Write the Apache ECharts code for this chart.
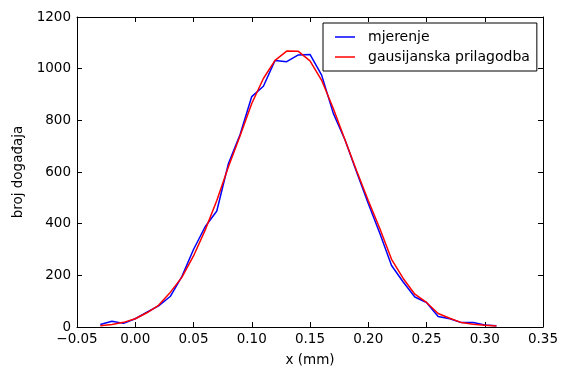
<!DOCTYPE html>
<html>
<head>
<meta charset="utf-8">
<script src="https://cdn.jsdelivr.net/npm/echarts@6/dist/echarts.min.js"></script>
<style>html,body{margin:0;padding:0;background:#fff}#c{width:561px;height:369px}</style>
</head>
<body>
<div id="c"></div>
<script>
const xValues = [-0.03,-0.02,-0.01,0.00,0.01,0.02,0.03,0.04,0.05,0.06,0.07,0.08,0.09,0.10,0.11,0.12,0.13,0.14,0.15,0.16,0.17,0.18,0.19,0.20,0.21,0.22,0.23,0.24,0.25,0.26,0.27,0.28,0.29,0.30,0.31];
const mjerenje = [10,22,14,32,57,82,118,195,300,388,449,633,745,892,932,1032,1027,1053,1055,975,827,725,600,478,362,238,174,116,95,41,32,17,17,8,5];
const gaus = [5,10,18,32,55,84,134,192,275,375,490,620,740,865,962,1032,1068,1067,1030,955,846,725,605,490,380,262,188,127,95,52,34,17,11,7,4];
const xTicks = [-0.05,0.00,0.05,0.10,0.15,0.20,0.25,0.30,0.35];
const yTicks = [0,200,400,600,800,1000,1200];
const seriesNames = ['mjerenje','gausijanska prilagodba'];

const font = 'DejaVu Sans';
const fs = 13.5;
const fmtX = v => (v < 0 ? '\u2212' : '') + Math.abs(v).toFixed(2);
const tickStyle = {show:true, inside:true, length:5, lineStyle:{color:'#000', width:1}};
const chart = echarts.init(document.getElementById('c'), null, {renderer:'canvas'});
chart.setOption({
  animation:false,
  backgroundColor:'#fff',
  textStyle:{fontFamily:font},
  grid:{left:77, right:18, top:17, bottom:42, containLabel:false, outerBoundsMode:'none'},
  legend:{
    orient:'vertical', left:323, top:23,
    padding:[7,7,7,12], itemGap:6, itemWidth:20, itemHeight:10,
    icon:'path://M0,0 L20,0 L20,1.5 L0,1.5 Z',
    borderColor:'#000', borderWidth:1, backgroundColor:'#fff',
    textStyle:{fontFamily:font, fontSize:14, color:'#000', padding:[0,0,0,8]},
    data:seriesNames
  },
  xAxis:[{
    type:'value', min:xTicks[0], max:xTicks[xTicks.length-1], interval:0.05,
    name:'x (mm)', nameLocation:'middle', nameGap:26,
    nameTextStyle:{fontFamily:font, fontSize:fs, color:'#000'},
    axisLine:{show:true, onZero:false, lineStyle:{color:'#000', width:1}},
    axisTick:tickStyle, splitLine:{show:false},
    axisLabel:{fontFamily:font, fontSize:fs, color:'#000', margin:5, formatter:fmtX}
  },{
    type:'value', position:'top', min:xTicks[0], max:xTicks[xTicks.length-1], interval:0.05,
    axisLine:{show:true, onZero:false, lineStyle:{color:'#000', width:1}},
    axisTick:tickStyle, axisLabel:{show:false}, splitLine:{show:false}
  }],
  yAxis:[{
    type:'value', min:yTicks[0], max:yTicks[yTicks.length-1], interval:200,
    name:'broj događaja', nameLocation:'middle', nameGap:47, nameRotate:90,
    nameTextStyle:{fontFamily:font, fontSize:fs, color:'#000'},
    axisLine:{show:true, onZero:false, lineStyle:{color:'#000', width:1}},
    axisTick:tickStyle, splitLine:{show:false},
    axisLabel:{fontFamily:font, fontSize:fs, color:'#000', margin:6, formatter:v => String(v)}
  },{
    type:'value', position:'right', min:yTicks[0], max:yTicks[yTicks.length-1], interval:200,
    axisLine:{show:true, onZero:false, lineStyle:{color:'#000', width:1}},
    axisTick:tickStyle, axisLabel:{show:false}, splitLine:{show:false}
  }],
  series:[{
    name:seriesNames[0], type:'line', symbol:'none', xAxisIndex:0, yAxisIndex:0,
    data:xValues.map((x,i)=>[x,mjerenje[i]]),
    lineStyle:{color:'#0000ff', width:1.5}, itemStyle:{color:'#0000ff'}, z:2
  },{
    name:seriesNames[1], type:'line', symbol:'none', xAxisIndex:0, yAxisIndex:0,
    data:xValues.map((x,i)=>[x,gaus[i]]),
    lineStyle:{color:'#ff0000', width:1.5}, itemStyle:{color:'#ff0000'}, z:3
  }]
});
</script>
</body>
</html>
